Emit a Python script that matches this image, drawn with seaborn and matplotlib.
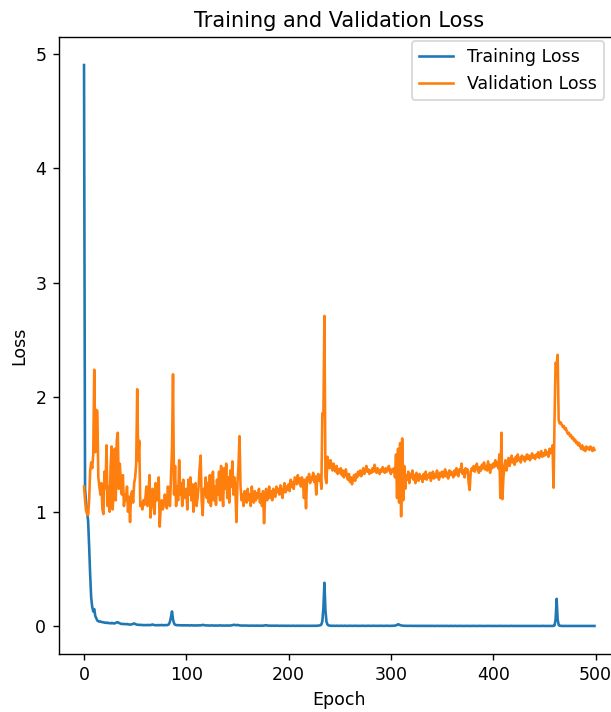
import matplotlib
matplotlib.use("Agg")
import matplotlib.pyplot as plt
import seaborn as sns

# loss values per epoch (10 epochs per row)
train_loss = [
    4.90, 1.20, 1.08, 1.00, 0.92, 0.70, 0.45, 0.25, 0.17, 0.13,
    0.15, 0.09, 0.07, 0.05, 0.045, 0.04, 0.042, 0.038, 0.035, 0.036,
    0.032, 0.03, 0.033, 0.028, 0.03, 0.027, 0.025, 0.03, 0.028, 0.024,
    0.026, 0.03, 0.034, 0.036, 0.03, 0.026, 0.022, 0.02, 0.021, 0.019,
    0.02, 0.018, 0.02, 0.017, 0.016, 0.015, 0.016, 0.018, 0.022, 0.025,
    0.02, 0.016, 0.014, 0.013, 0.012, 0.013, 0.011, 0.012, 0.010, 0.011,
    0.010, 0.011, 0.010, 0.012, 0.010, 0.011, 0.013, 0.016, 0.012, 0.010,
    0.010, 0.009, 0.010, 0.011, 0.009, 0.010, 0.012, 0.010, 0.009, 0.010,
    0.011, 0.010, 0.012, 0.018, 0.040, 0.080, 0.130, 0.060, 0.025, 0.014,
    0.011, 0.010, 0.009, 0.010, 0.009, 0.008, 0.009, 0.008, 0.009, 0.008,
    0.008, 0.009, 0.008, 0.007, 0.008, 0.009, 0.008, 0.007, 0.008, 0.007,
    0.008, 0.007, 0.008, 0.009, 0.008, 0.010, 0.012, 0.011, 0.009, 0.008,
    0.007, 0.008, 0.007, 0.006, 0.007, 0.008, 0.007, 0.006, 0.007, 0.006,
    0.007, 0.006, 0.007, 0.008, 0.007, 0.006, 0.007, 0.006, 0.006, 0.007,
    0.006, 0.007, 0.006, 0.007, 0.008, 0.010, 0.012, 0.013, 0.011, 0.009,
    0.012, 0.010, 0.008, 0.007, 0.006, 0.007, 0.006, 0.006, 0.007, 0.006,
    0.006, 0.005, 0.006, 0.005, 0.006, 0.006, 0.005, 0.006, 0.005, 0.006,
    0.005, 0.006, 0.005, 0.005, 0.006, 0.005, 0.007, 0.008, 0.009, 0.007,
    0.006, 0.005, 0.006, 0.005, 0.005, 0.006, 0.005, 0.005, 0.006, 0.005,
    0.005, 0.004, 0.005, 0.005, 0.004, 0.005, 0.005, 0.004, 0.005, 0.004,
    0.005, 0.004, 0.004, 0.005, 0.004, 0.005, 0.004, 0.004, 0.005, 0.004,
    0.004, 0.005, 0.004, 0.004, 0.005, 0.004, 0.004, 0.005, 0.004, 0.004,
    0.005, 0.004, 0.004, 0.005, 0.004, 0.004, 0.005, 0.004, 0.005, 0.006,
    0.007, 0.009, 0.015, 0.045, 0.160, 0.380, 0.140, 0.040, 0.015, 0.008,
    0.006, 0.005, 0.005, 0.004, 0.005, 0.004, 0.004, 0.005, 0.004, 0.004,
    0.004, 0.005, 0.004, 0.004, 0.004, 0.005, 0.004, 0.004, 0.004, 0.004,
    0.005, 0.004, 0.004, 0.004, 0.004, 0.005, 0.004, 0.004, 0.004, 0.004,
    0.004, 0.004, 0.005, 0.004, 0.004, 0.004, 0.004, 0.004, 0.005, 0.004,
    0.004, 0.004, 0.004, 0.005, 0.004, 0.004, 0.004, 0.004, 0.004, 0.004,
    0.005, 0.004, 0.004, 0.004, 0.004, 0.004, 0.005, 0.004, 0.004, 0.004,
    0.004, 0.004, 0.005, 0.005, 0.006, 0.008, 0.012, 0.018, 0.015, 0.010,
    0.008, 0.006, 0.005, 0.005, 0.004, 0.004, 0.004, 0.004, 0.004, 0.004,
    0.004, 0.004, 0.003, 0.004, 0.004, 0.003, 0.004, 0.004, 0.003, 0.004,
    0.004, 0.003, 0.004, 0.003, 0.004, 0.004, 0.003, 0.004, 0.003, 0.004,
    0.003, 0.004, 0.003, 0.003, 0.004, 0.003, 0.004, 0.003, 0.003, 0.004,
    0.003, 0.003, 0.004, 0.003, 0.003, 0.004, 0.003, 0.003, 0.003, 0.004,
    0.003, 0.003, 0.003, 0.004, 0.003, 0.003, 0.003, 0.003, 0.004, 0.003,
    0.003, 0.003, 0.003, 0.003, 0.004, 0.003, 0.003, 0.003, 0.003, 0.003,
    0.003, 0.004, 0.003, 0.003, 0.003, 0.003, 0.003, 0.004, 0.003, 0.003,
    0.003, 0.003, 0.003, 0.003, 0.003, 0.004, 0.003, 0.003, 0.003, 0.003,
    0.003, 0.003, 0.003, 0.003, 0.003, 0.003, 0.004, 0.003, 0.003, 0.003,
    0.003, 0.003, 0.003, 0.003, 0.003, 0.003, 0.003, 0.003, 0.004, 0.003,
    0.003, 0.003, 0.003, 0.003, 0.003, 0.003, 0.003, 0.003, 0.003, 0.003,
    0.003, 0.003, 0.003, 0.003, 0.003, 0.003, 0.003, 0.003, 0.003, 0.003,
    0.003, 0.003, 0.003, 0.003, 0.003, 0.003, 0.003, 0.003, 0.003, 0.004,
    0.003, 0.003, 0.003, 0.003, 0.003, 0.003, 0.003, 0.003, 0.003, 0.004,
    0.008, 0.060, 0.240, 0.060, 0.012, 0.005, 0.004, 0.003, 0.003, 0.003,
    0.003, 0.003, 0.003, 0.003, 0.003, 0.003, 0.003, 0.003, 0.003, 0.003,
    0.003, 0.003, 0.003, 0.003, 0.003, 0.003, 0.003, 0.003, 0.003, 0.003,
    0.003, 0.003, 0.003, 0.003, 0.003, 0.003, 0.003, 0.003, 0.003, 0.003,
]

val_loss = [
    1.22, 1.10, 1.01, 0.98, 0.97, 1.10, 1.36, 1.43, 1.38, 1.50,
    2.24, 1.52, 1.89, 1.88, 1.30, 1.22, 1.15, 1.25, 1.02, 0.98,
    1.35, 1.20, 1.58, 1.05, 1.22, 1.00, 1.40, 1.57, 1.02, 1.18,
    1.55, 1.10, 1.62, 1.69, 1.20, 1.42, 1.25, 1.15, 1.32, 1.05,
    1.15, 1.10, 1.22, 1.00, 1.13, 0.91, 1.15, 1.18, 1.08, 1.25,
    1.30, 1.42, 2.07, 1.45, 1.62, 1.05, 1.08, 1.02, 1.10, 1.06,
    1.12, 1.22, 1.05, 1.15, 1.32, 0.95, 1.12, 1.20, 1.05, 0.98,
    1.25, 1.10, 1.18, 1.30, 0.87, 1.05, 1.10, 1.02, 1.06, 1.15,
    1.08, 1.03, 1.22, 1.10, 1.05, 1.30, 1.55, 2.20, 1.15, 1.40,
    1.05, 1.22, 1.10, 1.45, 1.15, 1.25, 1.05, 1.28, 1.12, 1.18,
    1.20, 1.02, 1.28, 1.15, 1.30, 1.10, 1.24, 1.00, 1.18, 1.25,
    1.05, 1.12, 1.22, 1.38, 1.49, 1.10, 0.97, 1.20, 1.15, 1.30,
    1.12, 1.25, 1.08, 1.32, 1.05, 1.18, 1.35, 1.10, 1.22, 1.06,
    1.28, 1.15, 1.35, 1.10, 1.40, 1.18, 1.05, 1.38, 1.20, 1.42,
    1.12, 1.30, 1.08, 1.36, 1.22, 1.44, 1.15, 1.30, 1.18, 0.91,
    1.25, 1.40, 1.66, 1.22, 1.10, 1.15, 1.05, 1.18, 1.12, 1.08,
    1.20, 1.10, 1.15, 1.05, 1.22, 1.12, 1.08, 1.18, 1.10, 1.16,
    1.12, 1.20, 1.08, 1.15, 1.05, 1.18, 0.90, 1.12, 1.20, 1.10,
    1.15, 1.22, 1.12, 1.18, 1.10, 1.20, 1.15, 1.13, 1.22, 1.17,
    1.20, 1.15, 1.23, 1.18, 1.12, 1.20, 1.25, 1.17, 1.22, 1.19,
    1.24, 1.18, 1.28, 1.22, 1.26, 1.20, 1.30, 1.27, 1.24, 1.32,
    1.25, 1.29, 1.22, 1.30, 1.26, 1.12, 1.28, 1.03, 1.30, 1.27,
    1.33, 1.25, 1.30, 1.28, 1.34, 1.26, 1.31, 1.15, 1.30, 1.33,
    1.27, 1.32, 1.20, 1.86, 1.84, 2.71, 1.30, 1.25, 1.48, 1.42,
    1.38, 1.45, 1.40, 1.36, 1.42, 1.38, 1.35, 1.40, 1.33, 1.37,
    1.34, 1.38, 1.32, 1.36, 1.30, 1.34, 1.37, 1.31, 1.28, 1.33,
    1.26, 1.30, 1.24, 1.29, 1.32, 1.27, 1.33, 1.30, 1.35, 1.32,
    1.36, 1.31, 1.34, 1.38, 1.33, 1.36, 1.40, 1.35, 1.37, 1.33,
    1.36, 1.34, 1.38, 1.35, 1.41, 1.37, 1.34, 1.38, 1.36, 1.33,
    1.37, 1.35, 1.39, 1.36, 1.34, 1.38, 1.35, 1.37, 1.40, 1.36,
    1.33, 1.37, 1.35, 1.38, 1.30, 1.50, 1.12, 1.55, 1.08, 1.60,
    0.96, 1.64, 1.10, 1.40, 1.20, 1.32, 1.28, 1.35, 1.25, 1.33,
    1.30, 1.36, 1.28, 1.32, 1.25, 1.34, 1.30, 1.27, 1.33, 1.29,
    1.31, 1.26, 1.33, 1.29, 1.35, 1.28, 1.32, 1.30, 1.34, 1.27,
    1.31, 1.35, 1.29, 1.33, 1.30, 1.36, 1.32, 1.28, 1.34, 1.31,
    1.35, 1.30, 1.33, 1.37, 1.31, 1.34, 1.29, 1.36, 1.32, 1.35,
    1.33, 1.30, 1.36, 1.32, 1.38, 1.34, 1.31, 1.37, 1.35, 1.42,
    1.33, 1.36, 1.30, 1.38, 1.34, 1.37, 1.25, 1.19, 1.35, 1.38,
    1.36, 1.40, 1.35, 1.38, 1.42, 1.37, 1.34, 1.39, 1.36, 1.41,
    1.38, 1.43, 1.37, 1.40, 1.36, 1.44, 1.39, 1.34, 1.41, 1.38,
    1.42, 1.39, 1.45, 1.40, 1.43, 1.38, 1.50, 1.12, 1.69, 1.11,
    1.30, 1.40, 1.45, 1.36, 1.42, 1.47, 1.40, 1.44, 1.49, 1.43,
    1.46, 1.41, 1.48, 1.44, 1.50, 1.45, 1.47, 1.43, 1.49, 1.46,
    1.48, 1.44, 1.47, 1.50, 1.46, 1.49, 1.45, 1.48, 1.51, 1.47,
    1.49, 1.46, 1.50, 1.48, 1.52, 1.47, 1.50, 1.53, 1.48, 1.51,
    1.49, 1.54, 1.50, 1.52, 1.48, 1.55, 1.51, 1.53, 1.58, 1.21,
    1.83, 2.30, 2.28, 2.37, 1.80, 1.77, 1.78, 1.76, 1.74, 1.75,
    1.72, 1.73, 1.70, 1.68, 1.69, 1.66, 1.67, 1.64, 1.65, 1.62,
    1.63, 1.60, 1.61, 1.58, 1.60, 1.57, 1.55, 1.58, 1.54, 1.56,
    1.53, 1.57, 1.55, 1.56, 1.54, 1.57, 1.55, 1.53, 1.56, 1.54,
]

assert len(train_loss) == len(val_loss) == 500
epochs = list(range(len(train_loss)))

# reference looks rendered at ~125 dpi (bigger text/lines than 100 dpi)
fig = plt.figure(figsize=(611 / 125, 712 / 125), dpi=125)
# axes runs a little past the right edge, like the cropped original
ax = fig.add_axes([58.5 / 611, 1 - 654 / 712, 561.5 / 611, 617 / 712])

sns.lineplot(x=epochs, y=train_loss, label="Training Loss", color="#1f77b4", ax=ax)
sns.lineplot(x=epochs, y=val_loss, label="Validation Loss", color="#ff7f0e", ax=ax)

ax.set_title("Training and Validation Loss")
ax.set_xlabel("Epoch")
ax.set_ylabel("Loss")
ax.legend(loc="upper right", bbox_to_anchor=(604 / 611, 1 - 41 / 712),
          bbox_transform=fig.transFigure, borderaxespad=0)

fig.savefig("out.png", dpi=125)
